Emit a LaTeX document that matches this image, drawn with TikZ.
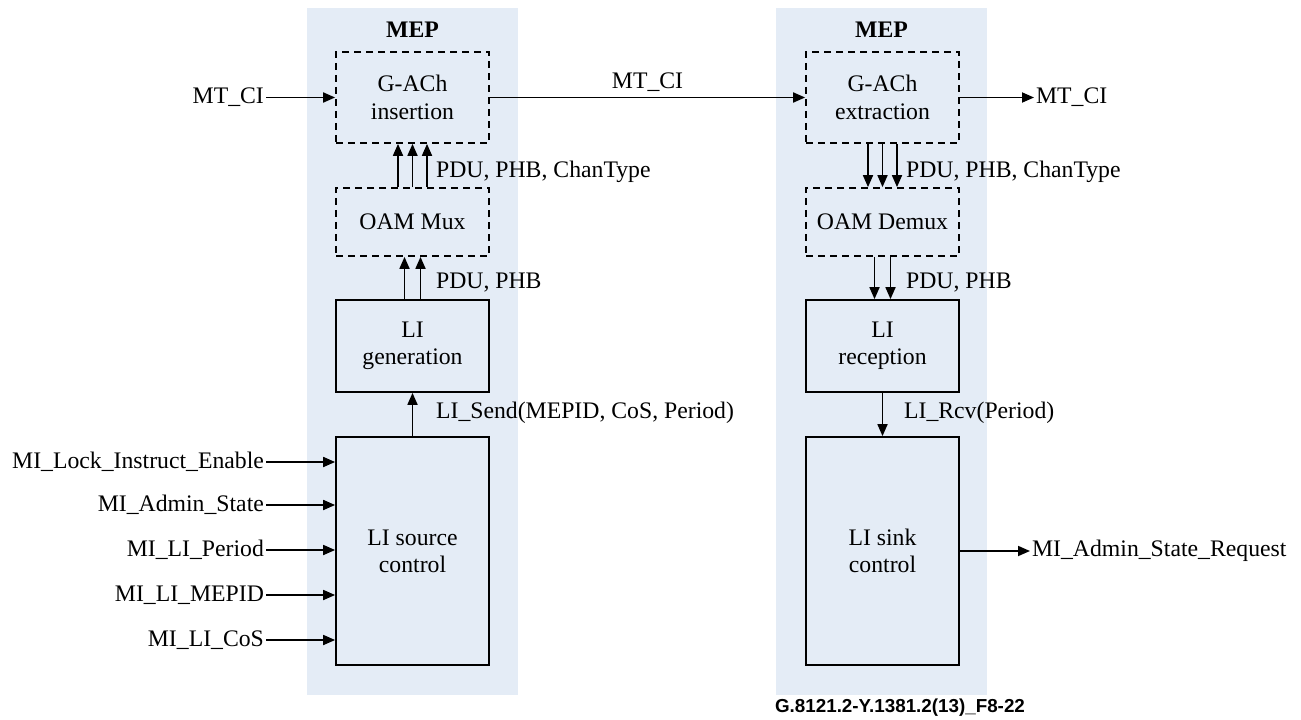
\documentclass[tikz,border=0pt]{standalone}
\usepackage{fontspec}
\setmainfont{Liberation Serif}
\setsansfont{Liberation Sans}
\usetikzlibrary{arrows.meta, positioning}

\definecolor{mepblue}{RGB}{228,236,246}

\tikzset{
  blk/.style={draw, line width=1pt, rectangle, minimum width=30.6mm, align=center, inner sep=0pt},
  dblk/.style={blk, dash pattern=on 1.4mm off 1mm},
  sig/.style={line width=1pt, -{Triangle[length=2.4mm,width=2mm]}},
  lbl/.style={inner sep=1pt},
}

\begin{document}
\begin{tikzpicture}[x=0.2mm, y=-0.2mm, font=\fontsize{13.5}{15.5}\selectfont]
\useasboundingbox (0,0) rectangle (1301,720);

% --- MEP panels
\fill[mepblue] (307,8) rectangle (518,695);
\fill[mepblue] (776,8) rectangle (987,695);
\node[font=\fontsize{13.5}{15.5}\selectfont\bfseries] (mepsrc) at (412.5,30) {MEP};
\node[font=\fontsize{13.5}{15.5}\selectfont\bfseries] (mepsnk) at (881.5,30) {MEP};

% --- source side blocks
\node[dblk, minimum height=18.2mm] (gachins) at (412.5,97.5) {G-ACh\\insertion};
\node[dblk, minimum height=13.6mm] (oammux)  at (412.5,222)  {OAM Mux};
\node[blk,  minimum height=18.4mm] (ligen)   at (412.5,346)  {LI\\generation};
\node[blk,  minimum height=45.6mm] (lisrc)   at (412.5,551)  {LI source\\control};

% --- sink side blocks
\node[dblk, minimum height=18.2mm] (gachext)  at (882.5,97.5) {G-ACh\\extraction};
\node[dblk, minimum height=13.6mm] (oamdemux) at (882.5,222)  {OAM Demux};
\node[blk,  minimum height=18.4mm] (lirx)     at (882.5,346)  {LI\\reception};
\node[blk,  minimum height=45.6mm] (lisink)   at (882.5,551)  {LI sink\\control};

% --- internal signals, source side
\foreach \dx in {-2.9mm,0mm,2.9mm}
  \draw[sig] ([xshift=\dx]oammux.north) -- ([xshift=\dx]gachins.south);
\foreach \dx in {-1.6mm,1.6mm}
  \draw[sig] ([xshift=\dx]ligen.north) -- ([xshift=\dx]oammux.south);
\draw[sig] (lisrc.north) -- (ligen.south);

\node[lbl, anchor=west] (chsrc)   at (434,172) {PDU, PHB, ChanType};
\node[lbl, anchor=west] (pdusrc)  at (434,283) {PDU, PHB};
\node[lbl, anchor=west] (lisend)  at (434,413) {LI\_Send(MEPID, CoS, Period)};

% --- internal signals, sink side
\foreach \dx in {-2.9mm,0mm,2.9mm}
  \draw[sig] ([xshift=\dx]gachext.south) -- ([xshift=\dx]oamdemux.north);
\foreach \dx in {-1.6mm,1.6mm}
  \draw[sig] ([xshift=\dx]oamdemux.south) -- ([xshift=\dx]lirx.north);
\draw[sig] (lirx.south) -- (lisink.north);

\node[lbl, anchor=west] (chsnk)   at (904,172) {PDU, PHB, ChanType};
\node[lbl, anchor=west] (pdusnk)  at (904,283) {PDU, PHB};
\node[lbl, anchor=west] (lircv)   at (902,413) {LI\_Rcv(Period)};

% --- MT_CI path
\node[lbl, anchor=east] (mtciin)  at (266,97.5)  {MT\_CI};
\node[lbl, anchor=west] (mtciout) at (1034,97.5) {MT\_CI};
\draw[sig] (mtciin.east) -- (mtciin.east -| gachins.west);
\draw[sig] (gachins.east) -- node[lbl, above=2pt] (mtcimid) {MT\_CI} (gachext.west);
\draw[sig] (gachext.east) -- (gachext.east -| mtciout.west);

% --- management inputs / output
\foreach \y/\name/\txt in {462/milock/MI\_Lock\_Instruct\_Enable,
                           505/miadmin/MI\_Admin\_State,
                           550/miperiod/MI\_LI\_Period,
                           595/mimepid/MI\_LI\_MEPID,
                           640/micos/MI\_LI\_CoS} {
  \node[lbl, anchor=east] (\name) at (266,\y) {\txt};
  \draw[sig] (\name.east) -- (\name.east -| lisrc.west);
}
\node[lbl, anchor=west] (miadminreq) at (1030,551) {MI\_Admin\_State\_Request};
\draw[sig] (lisink.east) -- (lisink.east -| miadminreq.west);

% --- figure id
\node[font=\sffamily\bfseries\fontsize{10.7}{12}\selectfont] (figid) at (900,708) {G.8121.2-Y.1381.2(13)\_F8-22};

\end{tikzpicture}
\end{document}
